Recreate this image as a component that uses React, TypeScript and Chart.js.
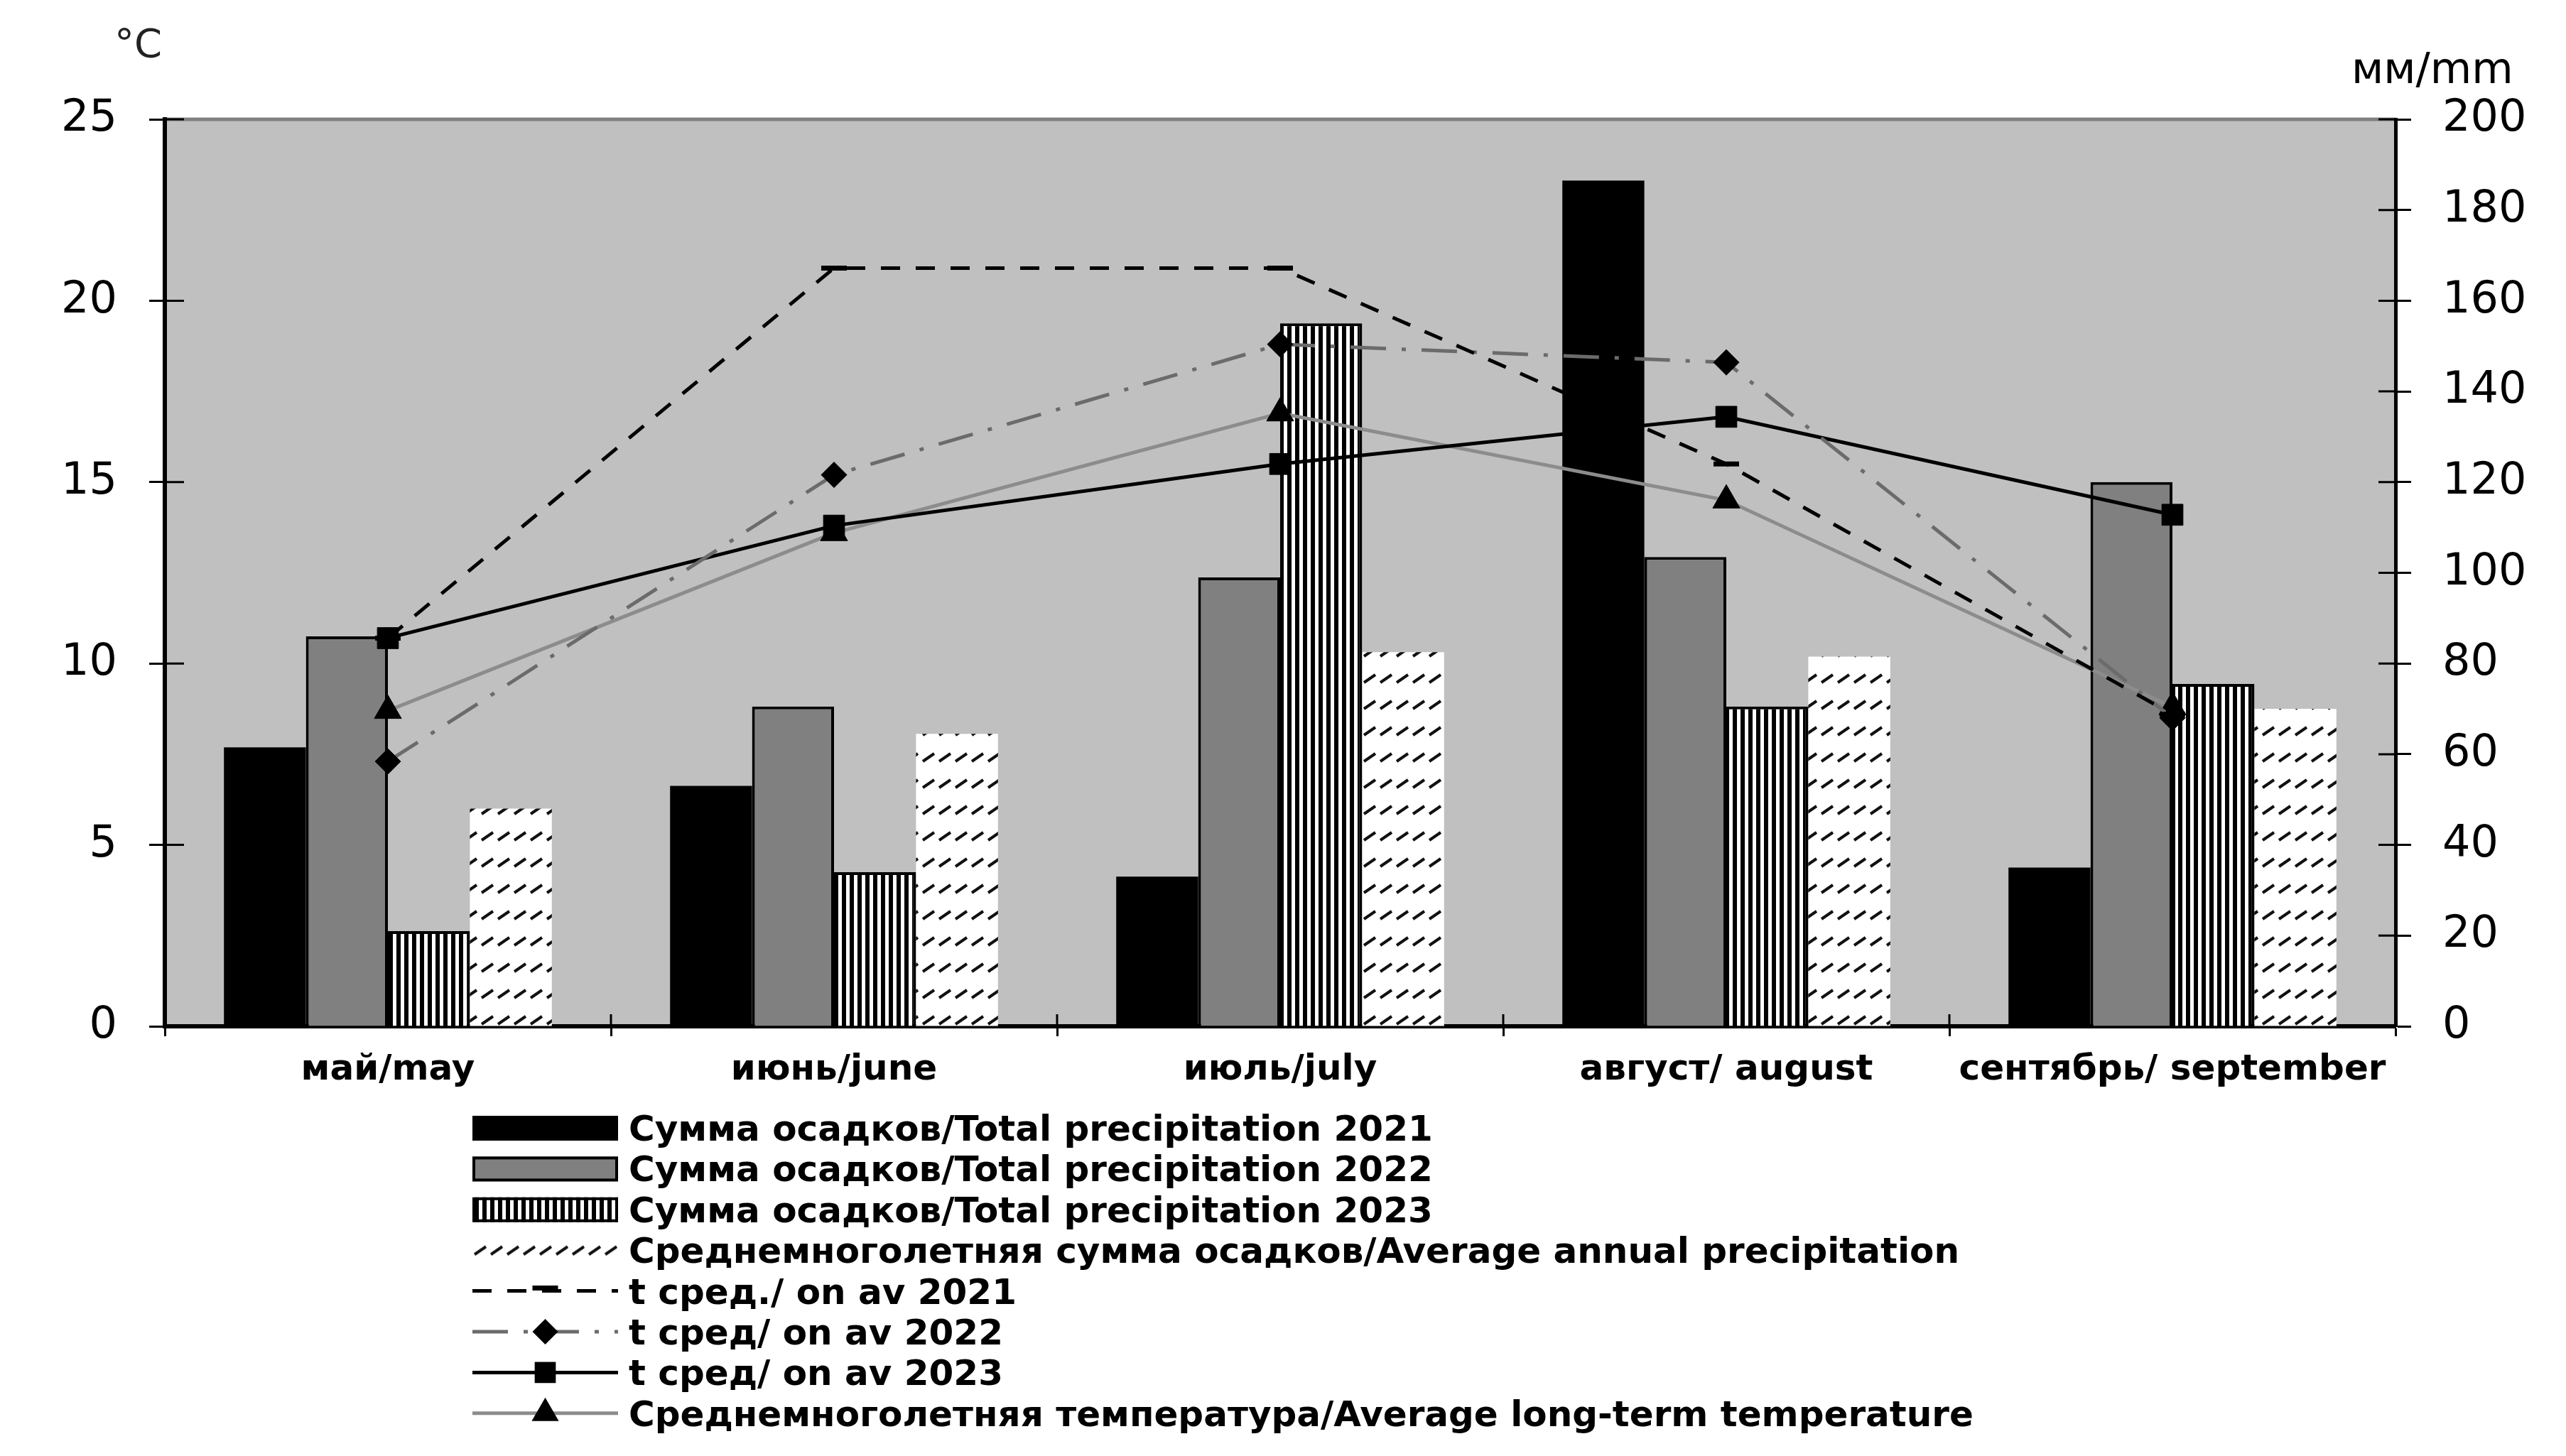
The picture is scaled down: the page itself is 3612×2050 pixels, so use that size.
import React, { useEffect, useRef } from 'react';
import { Chart, registerables } from 'chart.js';

Chart.register(...registerables);

// ---------- data ----------
const categories = ['май/may', 'июнь/june', 'июль/july', 'август/ august', 'сентябрь/ september'];

const precip2021 = [61.5, 53, 33, 186.5, 35];
const precip2022 = [86, 70.5, 99, 103.5, 120];
const precip2023 = [21, 34, 155, 70.5, 75.5];
const precipAvg = [48, 64.5, 82.5, 81.5, 70];

const temp2021 = [10.7, 20.9, 20.9, 15.5, 8.6];
const temp2022 = [7.3, 15.2, 18.8, 18.3, 8.5];
const temp2023 = [10.7, 13.8, 15.5, 16.8, 14.1];
const tempAvg = [8.7, 13.6, 16.9, 14.5, 8.8];

const seriesLabels = [
  'Сумма осадков/Total precipitation 2021',
  'Сумма осадков/Total precipitation 2022',
  'Сумма осадков/Total precipitation 2023',
  'Среднемноголетняя сумма осадков/Average annual precipitation',
  't сред./ on av 2021',
  't сред/ on av 2022',
  't сред/ on av 2023',
  'Среднемноголетняя температура/Average long-term temperature',
];

const tempTicks = [0, 5, 10, 15, 20, 25];
const precipTicks = [0, 20, 40, 60, 80, 100, 120, 140, 160, 180, 200];
const tempUnit = '°C';
const precipUnit = 'мм/mm';

// ---------- patterns ----------
function makeStripes(ctx: CanvasRenderingContext2D) {
  const c = document.createElement('canvas');
  c.width = 11;
  c.height = 11;
  const g = c.getContext('2d')!;
  g.fillStyle = '#ffffff';
  g.fillRect(0, 0, 11, 11);
  g.fillStyle = '#000000';
  g.fillRect(0, 0, 6, 11);
  return ctx.createPattern(c, 'repeat')!;
}

function makeHatch(ctx: CanvasRenderingContext2D) {
  const c = document.createElement('canvas');
  c.width = 23;
  c.height = 37;
  const g = c.getContext('2d')!;
  g.fillStyle = '#ffffff';
  g.fillRect(0, 0, 23, 37);
  g.strokeStyle = '#111111';
  g.lineWidth = 4;
  g.beginPath();
  g.moveTo(3, 28);
  g.lineTo(19, 17);
  g.stroke();
  return ctx.createPattern(c, 'repeat')!;
}

function drawMarker(ctx: CanvasRenderingContext2D, style: string, r: number, x: number, y: number, bw: number) {
  ctx.save();
  ctx.fillStyle = '#000';
  ctx.strokeStyle = '#000';
  ctx.setLineDash([]);
  ctx.beginPath();
  if (style === 'rect') {
    const s = r * Math.SQRT1_2;
    ctx.rect(x - s, y - s, 2 * s, 2 * s);
    ctx.fill();
  } else if (style === 'rectRot') {
    ctx.moveTo(x, y - r);
    ctx.lineTo(x + r, y);
    ctx.lineTo(x, y + r);
    ctx.lineTo(x - r, y);
    ctx.closePath();
    ctx.fill();
  } else if (style === 'triangle') {
    ctx.moveTo(x, y - r);
    ctx.lineTo(x + 0.866 * r, y + 0.5 * r);
    ctx.lineTo(x - 0.866 * r, y + 0.5 * r);
    ctx.closePath();
    ctx.fill();
  } else if (style === 'line') {
    ctx.lineWidth = bw;
    ctx.moveTo(x - r, y);
    ctx.lineTo(x + r, y);
    ctx.stroke();
  }
  ctx.restore();
}

// ---------- plugins ----------
const backgroundPlugin = {
  id: 'plotBackground',
  beforeDraw(chart: any) {
    const { ctx, chartArea } = chart;
    ctx.save();
    ctx.fillStyle = '#c0c0c0';
    ctx.fillRect(chartArea.left, chartArea.top, chartArea.right - chartArea.left, chartArea.bottom - chartArea.top);
    ctx.strokeStyle = '#808080';
    ctx.lineWidth = 5;
    ctx.beginPath();
    ctx.moveTo(chartArea.left, chartArea.top);
    ctx.lineTo(chartArea.right, chartArea.top);
    ctx.stroke();
    ctx.restore();
  },
};

const innerTicksPlugin = {
  id: 'innerTicks',
  afterDraw(chart: any) {
    const { ctx, chartArea, scales } = chart;
    ctx.save();
    ctx.strokeStyle = '#000';
    ctx.lineWidth = 3;
    ctx.setLineDash([]);
    ctx.beginPath();
    scales.y.ticks.forEach((t: any) => {
      const py = scales.y.getPixelForValue(t.value);
      ctx.moveTo(chartArea.left, py);
      ctx.lineTo(chartArea.left + 27, py);
    });
    scales.y1.ticks.forEach((t: any) => {
      const py = scales.y1.getPixelForValue(t.value);
      ctx.moveTo(chartArea.right - 24, py);
      ctx.lineTo(chartArea.right, py);
    });
    for (let i = 0; i <= categories.length; i++) {
      const px = scales.x.getPixelForValue(i - 0.5);
      ctx.moveTo(px, chartArea.bottom);
      ctx.lineTo(px, chartArea.bottom - 17);
    }
    ctx.stroke();
    ctx.restore();
  },
};

const unitsPlugin = {
  id: 'units',
  afterDraw(chart: any) {
    const { ctx, chartArea } = chart;
    ctx.save();
    ctx.fillStyle = '#222';
    ctx.textBaseline = 'alphabetic';
    ctx.textAlign = 'left';
    ctx.font = '56px "DejaVu Sans"';
    ctx.fillText(tempUnit, chartArea.left - 71, chartArea.top - 88);
    ctx.fillStyle = '#000';
    ctx.font = '60px "DejaVu Sans"';
    ctx.fillText(precipUnit, chartArea.right - 62, chartArea.top - 51);
    ctx.restore();
  },
};

const legendPlugin = {
  id: 'columnLegend',
  afterDraw(chart: any) {
    const { ctx, chartArea } = chart;
    const x0 = chartArea.left + 433;
    const symW = 205;
    const textX = x0 + 220;
    const y0 = chartArea.bottom + 143;
    const dy = 57.4;
    ctx.save();
    chart.data.datasets.forEach((ds: any, i: number) => {
      const y = y0 + i * dy;
      if (ds.type === 'bar') {
        if (ds.legendHatch) {
          ctx.save();
          ctx.translate(x0, y - 22);
          ctx.fillStyle = ds.backgroundColor;
          ctx.fillRect(0, 12, symW, 21);
          ctx.restore();
        } else {
          ctx.fillStyle = ds.backgroundColor;
          ctx.fillRect(x0, y - 17, symW, 35);
          if (ds.borderWidth) {
            ctx.strokeStyle = ds.borderColor;
            ctx.lineWidth = ds.borderWidth;
            ctx.strokeRect(x0 + ds.borderWidth / 2, y - 17 + ds.borderWidth / 2, symW - ds.borderWidth, 35 - ds.borderWidth);
          }
        }
      } else {
        ctx.save();
        ctx.strokeStyle = ds.borderColor;
        ctx.lineWidth = ds.borderWidth;
        ctx.setLineDash(ds.borderDash || []);
        ctx.beginPath();
        ctx.moveTo(x0, y);
        ctx.lineTo(x0 + symW, y);
        ctx.stroke();
        ctx.restore();
        const my = ds.pointStyle === 'line' ? y - 4 : y;
        drawMarker(ctx, ds.pointStyle, ds.pointRadius, x0 + symW / 2, my, ds.pointBorderWidth);
      }
      ctx.fillStyle = '#000';
      ctx.font = 'bold 50px "DejaVu Sans"';
      ctx.textAlign = 'left';
      ctx.textBaseline = 'alphabetic';
      ctx.fillText(ds.label, textX, y + 18);
    });
    ctx.restore();
  },
};

export default function App() {
  const ref = useRef<HTMLCanvasElement>(null);

  useEffect(() => {
    const canvas = ref.current!;
    const ctx = canvas.getContext('2d')!;
    const stripes = makeStripes(ctx);
    const hatch = makeHatch(ctx);

    const tickFont = { family: 'DejaVu Sans', size: 62 };

    const chart = new Chart(ctx, {
      type: 'bar',
      data: {
        labels: categories,
        datasets: [
          {
            type: 'bar', label: seriesLabels[0], data: precip2021, yAxisID: 'y1',
            backgroundColor: '#000000', borderColor: '#000000', borderWidth: 0, order: 2,
          },
          {
            type: 'bar', label: seriesLabels[1], data: precip2022, yAxisID: 'y1',
            backgroundColor: '#808080', borderColor: '#000000', borderWidth: 4, order: 2,
          },
          {
            type: 'bar', label: seriesLabels[2], data: precip2023, yAxisID: 'y1',
            backgroundColor: stripes, borderColor: '#000000', borderWidth: 4, order: 2,
          },
          {
            type: 'bar', label: seriesLabels[3], data: precipAvg, yAxisID: 'y1',
            backgroundColor: hatch, borderColor: '#ffffff', borderWidth: 0, order: 2, legendHatch: true,
          } as any,
          {
            type: 'line', label: seriesLabels[4], data: temp2021, yAxisID: 'y',
            borderColor: '#000000', borderWidth: 5, borderDash: [27, 22],
            pointStyle: 'line', pointRadius: 18, pointBorderWidth: 7,
            pointBorderColor: '#000000', pointBackgroundColor: '#000000', order: 1,
          },
          {
            type: 'line', label: seriesLabels[5], data: temp2022, yAxisID: 'y',
            borderColor: '#6b6b6b', borderWidth: 5, borderDash: [50, 22, 6, 22],
            pointStyle: 'rectRot', pointRadius: 18, pointBorderWidth: 1,
            pointBorderColor: '#000000', pointBackgroundColor: '#000000', order: 1,
          },
          {
            type: 'line', label: seriesLabels[6], data: temp2023, yAxisID: 'y',
            borderColor: '#000000', borderWidth: 5,
            pointStyle: 'rect', pointRadius: 21, pointBorderWidth: 1,
            pointBorderColor: '#000000', pointBackgroundColor: '#000000', order: 1,
          },
          {
            type: 'line', label: seriesLabels[7], data: tempAvg, yAxisID: 'y',
            borderColor: '#8c8c8c', borderWidth: 5,
            pointStyle: 'triangle', pointRadius: 22, pointBorderWidth: 1,
            pointBorderColor: '#000000', pointBackgroundColor: '#000000', order: 1,
          },
        ] as any,
      },
      options: {
        responsive: true,
        maintainAspectRatio: false,
        animation: false,
        devicePixelRatio: 1,
        layout: { padding: { top: 160, bottom: 477, left: 0, right: 0 } },
        plugins: { legend: { display: false }, tooltip: { enabled: false } },
        datasets: { bar: { barPercentage: 1, categoryPercentage: 0.735 } } as any,
        scales: {
          x: {
            type: 'category',
            offset: true,
            z: 1,
            grid: {
              offset: true, drawOnChartArea: false, drawTicks: true,
              tickLength: 14, tickWidth: 3, tickColor: '#000', color: '#000',
            },
            border: { display: true, color: '#000', width: 6 },
            ticks: {
              color: '#000', font: { family: 'DejaVu Sans', size: 50, weight: 'bold' },
              padding: 18, maxRotation: 0, minRotation: 0, autoSkip: false,
            },
            afterFit: (s: any) => { s.height = 120; },
          },
          y: {
            type: 'linear',
            position: 'left',
            min: tempTicks[0],
            max: tempTicks[tempTicks.length - 1],
            grid: {
              drawOnChartArea: false, drawTicks: true,
              tickLength: 22, tickWidth: 3, tickColor: '#000', color: '#000',
            },
            border: { display: true, color: '#000', width: 6 },
            ticks: { color: '#000', font: tickFont, padding: 45 },
            afterBuildTicks: (s: any) => { s.ticks = tempTicks.map((v) => ({ value: v })); },
            afterFit: (s: any) => { s.width = 224; },
          },
          y1: {
            type: 'linear',
            position: 'right',
            min: precipTicks[0],
            max: precipTicks[precipTicks.length - 1],
            grid: {
              drawOnChartArea: false, drawTicks: true,
              tickLength: 22, tickWidth: 3, tickColor: '#000', color: '#000',
            },
            border: { display: true, color: '#000', width: 5 },
            ticks: { color: '#000', font: tickFont, padding: 44 },
            afterBuildTicks: (s: any) => { s.ticks = precipTicks.map((v) => ({ value: v })); },
            afterFit: (s: any) => { s.width = 232; },
          },
        } as any,
      },
      plugins: [backgroundPlugin, innerTicksPlugin, unitsPlugin, legendPlugin],
    });

    return () => {
      chart.destroy();
    };
  }, []);

  return (
    <div style={{ width: '3596px', height: '2034px', position: 'relative' }}>
      <canvas ref={ref} />
    </div>
  );
}
